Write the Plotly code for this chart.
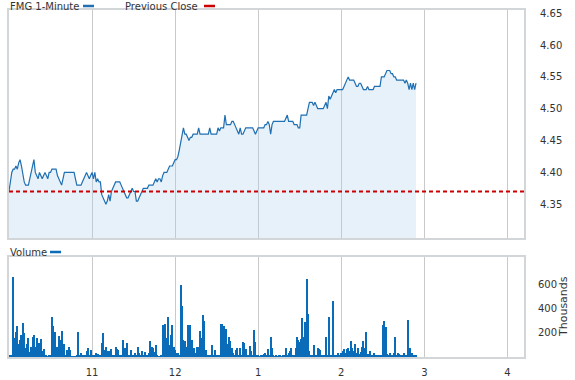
import pandas as pd
import plotly.graph_objects as go

# ---- data -------------------------------------------------------------
session_start = "2024-01-02 10:00"
axis_end = "2024-01-02 16:12"
prev_close = 4.37

price = [
    4.37, 4.39, 4.40, 4.405, 4.405, 4.41, 4.405, 4.415, 4.42, 4.41,
    4.395, 4.385, 4.38, 4.38, 4.38, 4.39, 4.40, 4.41, 4.42, 4.40,
    4.395, 4.39, 4.40, 4.395, 4.39, 4.395, 4.40, 4.395, 4.39, 4.40,
    4.40, 4.405, 4.405, 4.405, 4.405, 4.395, 4.39, 4.385, 4.38, 4.39,
    4.40, 4.40, 4.40, 4.40, 4.40, 4.40, 4.40, 4.40, 4.39, 4.38,
    4.38, 4.38, 4.38, 4.385, 4.39, 4.395, 4.40, 4.395, 4.39, 4.395,
    4.40, 4.39, 4.40, 4.385, 4.39, 4.385, 4.385, 4.365, 4.36, 4.355,
    4.35, 4.355, 4.365, 4.355, 4.37, 4.375, 4.38, 4.385, 4.385, 4.385,
    4.385, 4.38, 4.375, 4.37, 4.365, 4.36, 4.36, 4.365, 4.37, 4.375,
    4.37, 4.37, 4.355, 4.355, 4.36, 4.365, 4.37, 4.375, 4.375, 4.375,
    4.375, 4.38, 4.38, 4.38, 4.38, 4.385, 4.39, 4.385, 4.39, 4.39,
    4.385, 4.395, 4.40, 4.40, 4.40, 4.405, 4.41, 4.41, 4.41, 4.415,
    4.42, 4.42, 4.425, 4.435, 4.445, 4.455, 4.47, 4.46, 4.46, 4.455,
    4.45, 4.455, 4.455, 4.46, 4.46, 4.46, 4.46, 4.47, 4.46, 4.46,
    4.46, 4.46, 4.46, 4.46, 4.46, 4.47, 4.46, 4.46, 4.46, 4.46,
    4.46, 4.47, 4.465, 4.47, 4.47, 4.47, 4.49, 4.475, 4.475, 4.475,
    4.475, 4.48, 4.48, 4.475, 4.47, 4.465, 4.46, 4.47, 4.46, 4.46,
    4.465, 4.47, 4.47, 4.47, 4.47, 4.47, 4.47, 4.465, 4.46, 4.465,
    4.47, 4.47, 4.47, 4.47, 4.47, 4.475, 4.475, 4.48, 4.475, 4.46,
    4.475, 4.48, 4.48, 4.48, 4.48, 4.48, 4.48, 4.48, 4.48, 4.48,
    4.485, 4.49, 4.48, 4.48, 4.48, 4.48, 4.475, 4.475, 4.475, 4.47,
    4.47, 4.49, 4.49, 4.49, 4.49, 4.49, 4.50, 4.51, 4.51, 4.51,
    4.505, 4.51, 4.505, 4.50, 4.50, 4.50, 4.50, 4.50, 4.505, 4.51,
    4.50, 4.52, 4.515, 4.52, 4.525, 4.53, 4.525, 4.53, 4.53, 4.53,
    4.53, 4.53, 4.535, 4.54, 4.545, 4.55, 4.545, 4.545, 4.545, 4.545,
    4.54, 4.535, 4.535, 4.54, 4.54, 4.535, 4.53, 4.53, 4.53, 4.535,
    4.53, 4.53, 4.53, 4.53, 4.535, 4.535, 4.535, 4.535, 4.535, 4.55,
    4.55, 4.55, 4.555, 4.56, 4.56, 4.56, 4.555, 4.555, 4.55, 4.55,
    4.545, 4.545, 4.545, 4.545, 4.545, 4.545, 4.54, 4.545, 4.54, 4.53,
    4.54, 4.53, 4.54, 4.53, 4.54,
]

volume_k = [
    10, 10, 20, 661, 155, 202, 252, 106, 142, 183,
    280, 197, 72, 106, 156, 44, 86, 161, 178, 86,
    156, 86, 114, 147, 53, 67, 17, 8, 5, 10,
    15, 327, 252, 205, 31, 86, 170, 136, 216, 100,
    106, 17, 58, 78, 55, 5, 5, 5, 5, 10,
    202, 15, 36, 10, 8, 10, 53, 72, 15, 58,
    10, 10, 10, 36, 22, 10, 15, 114, 197, 58,
    78, 50, 53, 31, 67, 15, 20, 78, 67, 58,
    10, 15, 142, 10, 72, 119, 20, 10, 58, 10,
    8, 31, 10, 83, 31, 10, 50, 10, 40, 20,
    10, 36, 128, 86, 72, 40, 95, 10, 5, 5,
    15, 266, 40, 275, 156, 327, 100, 183, 266, 86,
    58, 33, 30, 10, 594, 419, 142, 128, 78, 261,
    100, 261, 142, 44, 72, 30, 86, 86, 211, 156,
    350, 294, 58, 10, 10, 10, 15, 95, 20, 58,
    10, 5, 10, 276, 270, 254, 185, 233, 105, 162,
    134, 71, 34, 20, 57, 77, 10, 71, 20, 120,
    111, 63, 10, 20, 91, 48, 10, 225, 120, 15,
    10, 5, 15, 20, 25, 30, 15, 63, 15, 168,
    77, 10, 5, 10, 5, 8, 12, 5, 10, 8,
    77, 15, 34, 48, 77, 15, 20, 77, 168, 140,
    120, 148, 319, 162, 291, 647, 356, 48, 20, 10,
    100, 5, 10, 77, 63, 54, 20, 10, 20, 168,
    10, 328, 10, 15, 462, 10, 20, 5, 30, 15,
    35, 48, 63, 35, 63, 71, 48, 134, 77, 48,
    105, 35, 71, 25, 40, 83, 128, 71, 205, 25,
    20, 48, 15, 10, 35, 20, 10, 12, 5, 10,
    262, 299, 248, 25, 20, 35, 10, 20, 35, 162,
    15, 35, 25, 20, 10, 35, 15, 10, 305, 63,
    71, 35, 20, 10, 15,
]

hour_ticks = ["2024-01-02 11:00", "2024-01-02 12:00", "2024-01-02 13:00",
              "2024-01-02 14:00", "2024-01-02 15:00", "2024-01-02 16:00"]
hour_labels = ["11", "12", "1", "2", "3", "4"]
price_ticks = [4.35, 4.40, 4.45, 4.50, 4.55, 4.60, 4.65]
price_labels = ["4.35", "4.40", "4.45", "4.50", "4.55", "4.60", "4.65"]
vol_ticks = [200, 400, 600]
vol_labels = ["200", "400", "600"]

# ---- figure -------------------------------------------------------------
times = pd.date_range(session_start, periods=len(price), freq="min")

LINE_BLUE = "#1f6fb2"
BAR_BLUE = "#0a6bb8"
RED = "#cc0000"
GRID = "#c9c9c9"
FRAME = "#d2d6d9"
TXT = "#333333"
FONT = "DejaVu Sans"
FS = 10

fig = go.Figure()
fig.add_trace(go.Scatter(
    x=times, y=price, mode="lines", name="FMG 1-Minute",
    line=dict(color=LINE_BLUE, width=1.2),
    fill="tozeroy", fillcolor="rgba(176,210,235,0.30)",
    xaxis="x", yaxis="y", showlegend=False,
))
fig.add_trace(go.Bar(
    x=times, y=volume_k, name="Volume",
    marker=dict(color=BAR_BLUE, line=dict(width=0)),
    width=45000, xaxis="x2", yaxis="y2", showlegend=False,
))

fig.add_shape(type="line", xref="x domain", yref="y", x0=0, x1=1,
              y0=prev_close, y1=prev_close,
              line=dict(color=RED, width=2.2, dash="4px,3px"))

xcommon = dict(
    type="date", range=[session_start, axis_end],
    tickvals=hour_ticks, ticktext=hour_labels,
    showgrid=True, gridcolor=GRID, gridwidth=1,
    showline=True, mirror=True, linecolor=FRAME, linewidth=2,
    ticks="", zeroline=False, automargin=False,
)
fig.update_layout(
    width=575, height=380,
    margin=dict(l=9, r=51, t=10, b=23),
    paper_bgcolor="white", plot_bgcolor="white",
    font=dict(family=FONT, size=FS, color=TXT),
    bargap=0,
    xaxis=dict(**xcommon, domain=[0, 1], anchor="y", showticklabels=False),
    xaxis2=dict(**xcommon, domain=[0, 1], anchor="y2", matches="x",
                showticklabels=True, ticklabelstandoff=5),
    yaxis=dict(domain=[0.343, 1], anchor="x", side="right",
               range=[4.297, 4.655], tickvals=price_ticks, ticktext=price_labels,
               showgrid=False, showline=True, mirror=True, linecolor=FRAME,
               linewidth=2, ticks="", zeroline=False, ticklabelstandoff=12,
               automargin=False),
    yaxis2=dict(domain=[0, 0.288], anchor="x2", side="right",
                range=[0, 825], tickvals=vol_ticks, ticktext=vol_labels,
                showgrid=False, showline=True, mirror=True, linecolor=FRAME,
                linewidth=2, ticks="", zeroline=False, ticklabelstandoff=10,
                automargin=False),
    showlegend=False,
)

# legend-like labels
def label(text, xpx, ypx):
    fig.add_annotation(text=text, xref="paper", yref="paper",
                       x=(xpx - 9) / 515, y=(357 - ypx) / 347,
                       xanchor="left", yanchor="middle", showarrow=False,
                       font=dict(family=FONT, size=FS, color=TXT))

def swatch(color, x0px, x1px, ypx):
    fig.add_shape(type="line", xref="paper", yref="paper",
                  x0=(x0px - 9) / 515, x1=(x1px - 9) / 515,
                  y0=(357 - ypx) / 347, y1=(357 - ypx) / 347,
                  line=dict(color=color, width=2.5))

label("FMG 1-Minute", 8, 6)
swatch(LINE_BLUE, 83, 94, 6)
label("Previous Close", 123, 6)
swatch(RED, 204, 215, 6)
label("Volume", 8, 252)
swatch(BAR_BLUE, 50, 61, 252)

fig.add_annotation(text="Thousands", xref="paper", yref="paper",
                   x=(563 - 9) / 515, y=(357 - 307) / 347, textangle=-90,
                   xanchor="center", yanchor="middle", showarrow=False,
                   font=dict(family=FONT, size=FS + 1, color=TXT))

fig.write_html("out.html",
               config={"displayModeBar": False},
               post_script="document.body.style.margin='0';"
                           "document.body.style.padding='0';")
